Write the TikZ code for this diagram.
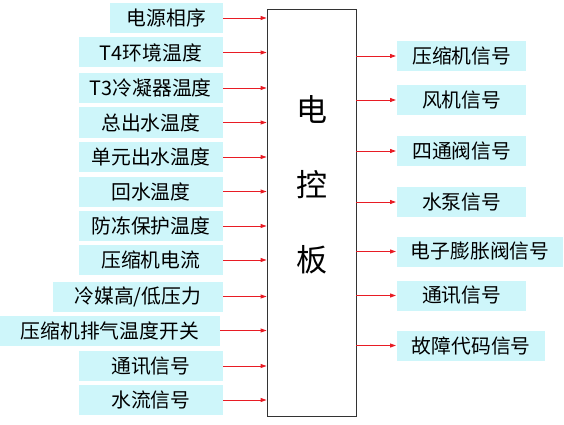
\documentclass[tikz,border=0pt]{standalone}
\usepackage{fontspec}
\setmainfont{Noto Sans CJK SC}
\usepackage{tikz}
\usetikzlibrary{arrows.meta}
\definecolor{boxcyan}{RGB}{206,246,250}
\definecolor{sigred}{RGB}{232,28,36}

\begin{document}
\begin{tikzpicture}[x=1pt, y=-1pt,
            sigbox/.style={fill=boxcyan, inner sep=0pt, minimum height=30pt,
                           font=\fontsize{19.8}{22}\selectfont},
            inbox/.style={sigbox, anchor=east, minimum width=144pt},
            outbox/.style={sigbox, anchor=west, minimum width=129pt},
            ctrlbox/.style={draw=black!80, line width=0.9pt, minimum width=89pt, minimum height=407pt},
            sigarrow/.style={-{Triangle[length=6pt, width=4pt]}, sigred, line width=0.9pt}
        ]
            \useasboundingbox (0,0) rectangle (564,425);

            % Control board
            \node [ctrlbox] (ctrl) at (311.5,212.5) {};
            \node [font=\fontsize{31}{75}\selectfont, align=center] (ctrltext) at (311.5,185) {电\\控\\板};

            % Inputs
            \node [inbox, minimum width=113pt] (in1) at (223,18) {电源相序};
            \node [inbox] (in2) at (223,52.5) {T4环境温度};
            \node [inbox] (in3) at (223,88) {T3冷凝器温度};
            \node [inbox] (in4) at (223,122.5) {总出水温度};
            \node [inbox] (in5) at (223,157) {单元出水温度};
            \node [inbox] (in6) at (223,191.5) {回水温度};
            \node [inbox] (in7) at (223,226) {防冻保护温度};
            \node [inbox] (in8) at (223,260) {压缩机电流};
            \node [inbox, minimum width=170pt] (in9) at (223,296.5) {冷媒高/低压力};
            \node [inbox, minimum width=220pt] (in10) at (220,330.5) {压缩机排气温度开关};
            \node [inbox] (in11) at (223,366) {通讯信号};
            \node [inbox] (in12) at (223,400) {水流信号};

            % Outputs
            \node [outbox] (out1) at (397,56) {压缩机信号};
            \node [outbox] (out2) at (397,100) {风机信号};
            \node [outbox] (out3) at (397,151) {四通阀信号};
            \node [outbox] (out4) at (397,202) {水泵信号};
            \node [outbox, minimum width=166pt] (out5) at (397,251.5) {电子膨胀阀信号};
            \node [outbox] (out6) at (397,295.5) {通讯信号};
            \node [outbox, minimum width=148pt] (out7) at (397,345.5) {故障代码信号};

            % Arrows into the board
            \foreach \i in {1,...,12}
                \draw [sigarrow] (in\i.east) -- (ctrl.west |- in\i.east);

            % Arrows out of the board
            \foreach \i in {1,...,7}
                \draw [sigarrow] (ctrl.east |- out\i.west) -- ([xshift=-1pt]out\i.west);
        \end{tikzpicture}
\end{document}
